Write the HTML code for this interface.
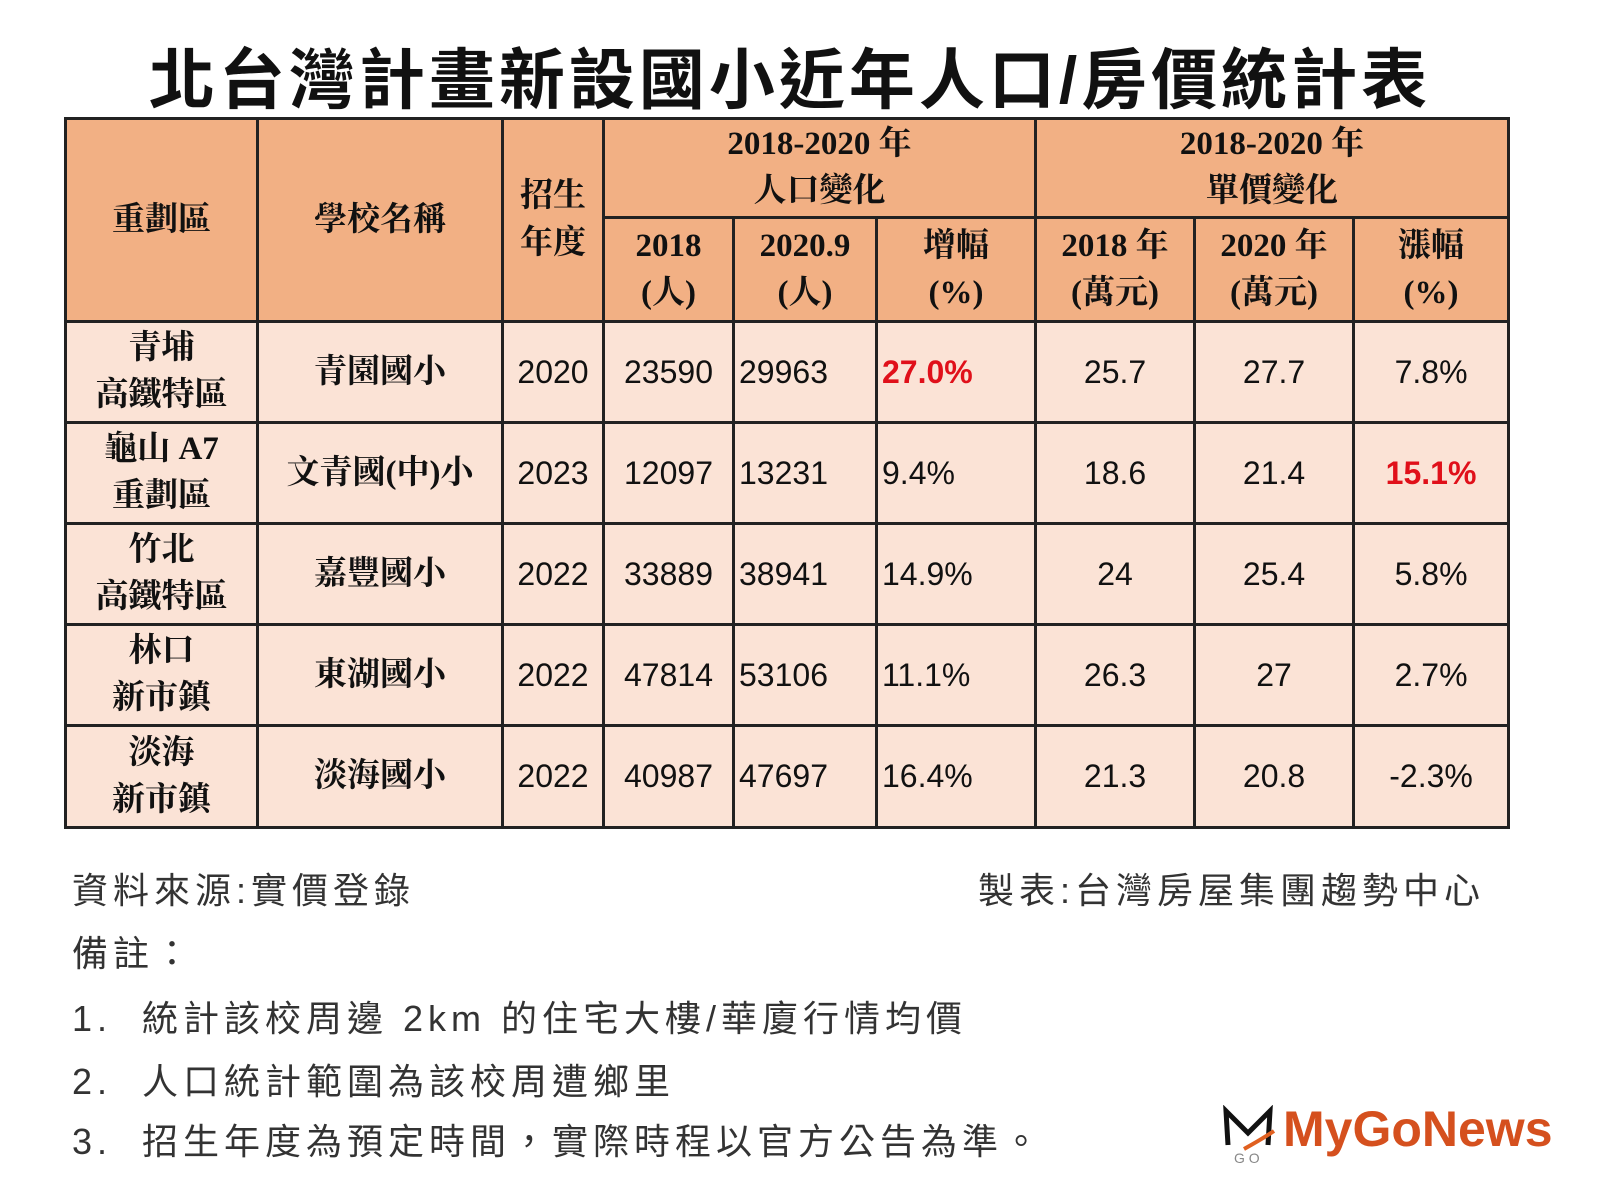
<!DOCTYPE html>
<html><head><meta charset="utf-8">
<style>
body{margin:0;width:1600px;height:1200px;background:#fff;position:relative;overflow:hidden;font-family:"Liberation Sans","Noto Sans CJK TC",sans-serif;}
.title{position:absolute;left:0;width:1580px;top:40px;text-align:center;font-size:66px;font-weight:bold;color:#111;letter-spacing:4px;line-height:80px;}
table{position:absolute;left:64px;top:117px;width:1443px;border-collapse:collapse;table-layout:fixed;}
td{border:3px solid #222;text-align:center;vertical-align:middle;padding:0;font-family:"Liberation Serif","Noto Serif CJK SC",serif;font-size:33px;line-height:47px;color:#111;overflow:hidden;white-space:nowrap;}
.h td{background:#f2b084;font-weight:bold;}
.r td{background:#fbe3d6;font-family:"Liberation Sans","Noto Sans CJK TC",sans-serif;font-size:32px;}
.r td.b{font-weight:bold;font-family:"Liberation Serif","Noto Serif CJK SC",serif;font-size:33px;}
.l{text-align:left;padding-left:4px;}
.red{color:#e0101a;font-weight:bold;}
.f{position:absolute;font-size:36px;letter-spacing:5px;color:#333;font-family:"Liberation Sans","Noto Sans CJK TC",sans-serif;}
.logo{position:absolute;left:1283px;top:1100px;font-size:50px;font-weight:bold;color:#d5501e;font-family:"Liberation Sans",sans-serif;}
</style></head><body>
<div class="title">北台灣計畫新設國小近年人口/房價統計表</div>
<table>
<colgroup><col style="width:192px"><col style="width:245px"><col style="width:101px"><col style="width:130px"><col style="width:143px"><col style="width:159px"><col style="width:159px"><col style="width:159px"><col style="width:155px"></colgroup>
<tr class="h" style="height:99px"><td rowspan="2">重劃區</td><td rowspan="2">學校名稱</td><td rowspan="2">招生<br>年度</td><td colspan="3">2018-2020 年<br>人口變化</td><td colspan="3">2018-2020 年<br>單價變化</td></tr>
<tr class="h" style="height:104px"><td>2018<br>(人)</td><td>2020.9<br>(人)</td><td>增幅<br>(%)</td><td>2018 年<br>(萬元)</td><td>2020 年<br>(萬元)</td><td>漲幅<br>(%)</td></tr>
<tr class="r" style="height:101px"><td class="b">青埔<br>高鐵特區</td><td class="b">青園國小</td><td>2020</td><td>23590</td><td class="l">29963</td><td class="l red">27.0%</td><td>25.7</td><td>27.7</td><td>7.8%</td></tr>
<tr class="r" style="height:101px"><td class="b">龜山 A7<br>重劃區</td><td class="b">文青國(中)小</td><td>2023</td><td>12097</td><td class="l">13231</td><td class="l">9.4%</td><td>18.6</td><td>21.4</td><td class="red">15.1%</td></tr>
<tr class="r" style="height:101px"><td class="b">竹北<br>高鐵特區</td><td class="b">嘉豐國小</td><td>2022</td><td>33889</td><td class="l">38941</td><td class="l">14.9%</td><td>24</td><td>25.4</td><td>5.8%</td></tr>
<tr class="r" style="height:101px"><td class="b">林口<br>新市鎮</td><td class="b">東湖國小</td><td>2022</td><td>47814</td><td class="l">53106</td><td class="l">11.1%</td><td>26.3</td><td>27</td><td>2.7%</td></tr>
<tr class="r" style="height:102px"><td class="b">淡海<br>新市鎮</td><td class="b">淡海國小</td><td>2022</td><td>40987</td><td class="l">47697</td><td class="l">16.4%</td><td>21.3</td><td>20.8</td><td>-2.3%</td></tr>
</table>
<div class="f" style="left:72px;top:862px">資料來源:實價登錄</div>
<div class="f" style="left:978px;top:862px">製表:台灣房屋集團趨勢中心</div>
<div class="f" style="left:72px;top:925px">備註：</div>
<div class="f" style="left:72px;top:990px">1.&nbsp;&nbsp;統計該校周邊 2km 的住宅大樓/華廈行情均價</div>
<div class="f" style="left:72px;top:1053px">2.&nbsp;&nbsp;人口統計範圍為該校周遭鄉里</div>
<div class="f" style="left:72px;top:1113px">3.&nbsp;&nbsp;招生年度為預定時間，實際時程以官方公告為準。</div>
<svg style="position:absolute;left:1222px;top:1105px" width="56" height="60"><path d="M6 40 L4 6 L26 28 L48 6 L46 40" fill="none" stroke="#111" stroke-width="5"/><path d="M22 44 Q40 34 52 26" stroke="#e06020" stroke-width="4" fill="none"/><text x="12" y="58" font-size="14" fill="#888" font-family="Liberation Sans">G O</text></svg>
<div class="logo">MyGoNews</div>
</body></html>
